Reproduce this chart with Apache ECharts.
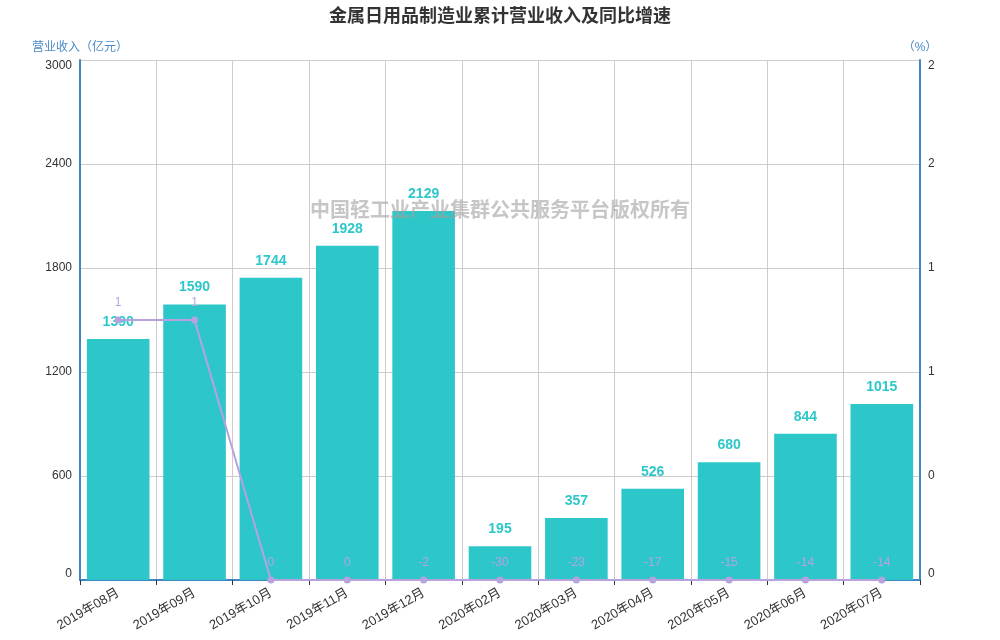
<!DOCTYPE html>
<html>
<head>
<meta charset="utf-8">
<script src="https://cdn.jsdelivr.net/npm/echarts@6/dist/echarts.min.js"></script>
<style>
  html, body { margin: 0; padding: 0; background: #fff; }
  #main { width: 1000px; height: 640px; }
</style>
</head>
<body>
<div id="main"></div>
<script>
// 数据
var months = ["2019年08月", "2019年09月", "2019年10月", "2019年11月", "2019年12月",
    "2020年02月", "2020年03月", "2020年04月", "2020年05月", "2020年06月", "2020年07月"];
var revenue = [1390, 1590, 1744, 1928, 2129, 195, 357, 526, 680, 844, 1015];
var growth = [1.25, 1.25, 0, 0, -2, -30, -23, -17, -15, -14, -14];
var leftTicks = [0, 600, 1200, 1800, 2400, 3000];

(function () {
    var myChart = echarts.init(document.getElementById("main"));
    var axisBlue = "#3f86c2";
    // 增速低于右轴下限的点画在下限上，标签仍显示原值
    var growthPlot = growth.map(function (v) {
        return Math.max(v, 0);
    });
    var option = {
        animation: false,
        textStyle: {fontFamily: "Arial, 'Noto Sans CJK SC', sans-serif"},
        title: {
            text: "金属日用品制造业累计营业收入及同比增速",
            left: "center",
            top: 3,
            textStyle: {fontSize: 18, fontWeight: "bold", color: "#333"}
        },
        grid: {left: 80, right: 80, top: 60, bottom: 60},
        graphic: [{
            type: "text",
            left: "center",
            top: 199,
            z: 100,
            style: {
                text: "中国轻工业产业集群公共服务平台版权所有",
                fontSize: 20,
                fontWeight: "bold",
                fill: "rgba(160,160,160,0.6)",
                fontFamily: "'Noto Sans CJK SC', sans-serif"
            }
        }],
        xAxis: [{
            type: "category",
            data: months,
            axisLine: {lineStyle: {color: axisBlue, width: 2}},
            axisTick: {show: true, lineStyle: {color: "#333"}},
            axisLabel: {rotate: 30, color: "#333", fontSize: 13, interval: 0, margin: 12},
            splitLine: {show: true, lineStyle: {color: "#ccc"}}
        }],
        yAxis: [{
            type: "value",
            name: "营业收入（亿元）",
            nameTextStyle: {color: "#4a8cc8", fontSize: 12},
            nameGap: 6,
            min: leftTicks[0],
            max: leftTicks[leftTicks.length - 1],
            interval: 600,
            axisLine: {show: true, lineStyle: {color: axisBlue, width: 2}},
            axisTick: {show: false},
            axisLabel: {
                color: "#333",
                fontSize: 12,
                verticalAlignMinLabel: "bottom",
                verticalAlignMaxLabel: "top",
                formatter: function (v) {
                    return String(v);
                }
            },
            splitLine: {lineStyle: {color: "#ccc"}}
        }, {
            type: "value",
            name: "（%）",
            nameTextStyle: {color: "#4a8cc8", fontSize: 12},
            nameGap: 6,
            min: 0,
            max: 2.5,
            interval: 0.5,
            axisLine: {show: true, lineStyle: {color: axisBlue, width: 2}},
            axisTick: {show: false},
            axisLabel: {
                color: "#333",
                fontSize: 12,
                verticalAlignMinLabel: "bottom",
                verticalAlignMaxLabel: "top",
                formatter: function (v) {
                    return parseInt(v);
                }
            },
            splitLine: {show: false}
        }],
        series: [{
            name: "营业收入",
            type: "bar",
            data: revenue,
            barWidth: "82%",
            itemStyle: {color: "#2ec7c9"},
            label: {
                show: true,
                position: "top",
                distance: 10,
                color: "#2ec7c9",
                fontSize: 14,
                fontWeight: "bold"
            }
        }, {
            name: "同比增速",
            type: "line",
            yAxisIndex: 1,
            data: growthPlot,
            symbol: "circle",
            symbolSize: 7,
            clip: false,
            lineStyle: {color: "#b6a2de", width: 2},
            itemStyle: {color: "#b6a2de"},
            label: {
                show: true,
                position: "top",
                distance: 8,
                color: "#b6a2de",
                fontSize: 12,
                formatter: function (p) {
                    return parseInt(growth[p.dataIndex]);
                }
            },
            z: 5
        }]
    };
    myChart.setOption(option);
    window.addEventListener("resize", function () {
        myChart.resize();
    });
})();
</script>
</body>
</html>
